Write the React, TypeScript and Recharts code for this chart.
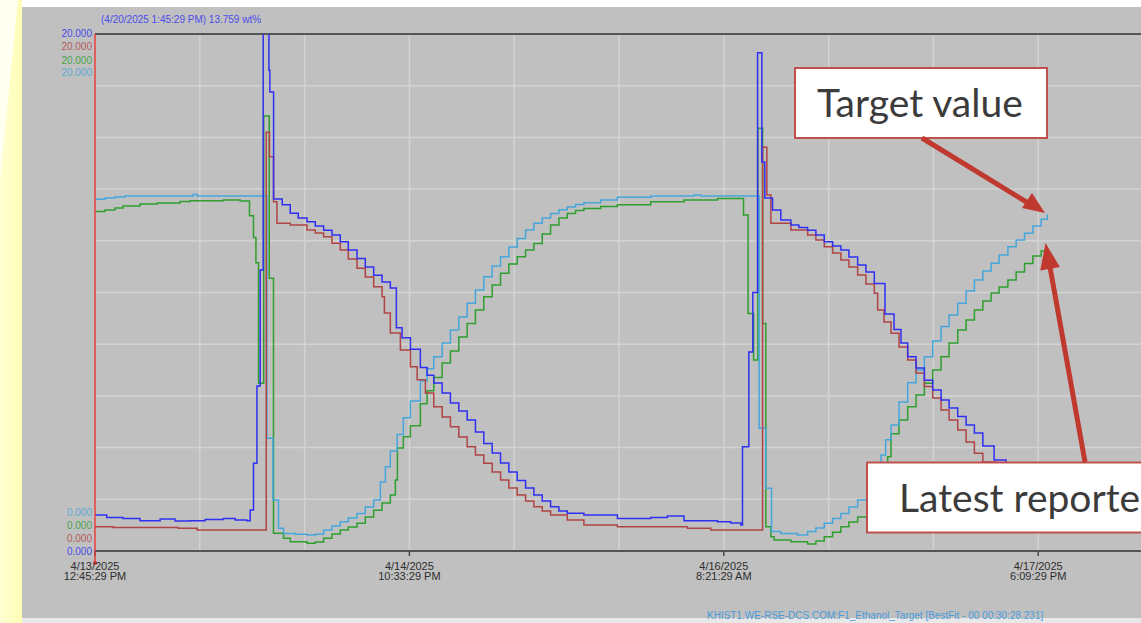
import React from "react";
import {
  LineChart,
  Line,
  XAxis,
  YAxis,
  CartesianGrid,
  ReferenceLine,
} from "recharts";

// time in hours since 4/13/2025 12:45:29 PM, value in wt%
const targetSeries: [number, number][] = [
  [0, 13.61], [1.08, 13.66], [2.15, 13.69], [3.23, 13.73], [10.55, 13.79], [10.98, 13.73],
  [18.48, 4.36], [19.13, 1.97], [19.73, 0.88], [20.27, 0.68], [21.53, 0.65], [22.79, 0.62],
  [23.68, 0.65], [24.58, 0.81], [25.48, 0.97], [26.37, 1.13], [27.23, 1.28], [28.17, 1.45],
  [29.06, 1.7], [29.96, 1.97], [30.68, 2.67], [31.22, 3.26], [31.75, 3.87], [32.48, 4.51],
  [33.15, 5.15], [33.91, 5.8], [34.98, 6.58], [35.7, 7.05], [36.42, 7.51], [37.32, 8.05],
  [38.21, 8.55], [39.11, 9.05], [40.01, 9.58], [40.9, 10.1], [41.8, 10.61], [42.7, 11.03],
  [43.6, 11.38], [44.49, 11.76], [45.39, 12.09], [46.29, 12.42], [47.18, 12.68], [48.08, 12.88],
  [48.98, 13.06], [49.87, 13.2], [50.77, 13.31], [51.66, 13.4], [52.56, 13.47], [54.36, 13.58],
  [56.16, 13.68], [59.74, 13.73], [64.4, 13.77], [65.12, 13.73],
  [71.4, 4.75], [72.12, 2.43], [72.73, 0.75], [73.73, 0.68], [75.53, 0.62], [76.61, 0.75],
  [77.5, 0.89], [78.4, 1.07], [79.3, 1.26], [80.19, 1.45], [81.05, 1.7], [81.99, 1.97],
  [83.07, 2.36], [83.75, 3.06], [84.5, 3.71], [85.0, 4.3], [85.58, 4.87], [86.44, 5.76],
  [87.37, 6.51], [88.27, 7.0], [89.16, 7.51], [90.06, 8.12], [90.96, 8.68], [91.82, 9.13],
  [92.75, 9.58], [93.65, 10.06], [94.54, 10.48], [95.45, 10.83], [96.34, 11.13], [97.2, 11.45],
  [98.14, 11.77], [99.03, 12.03], [99.93, 12.29], [100.83, 12.57], [101.72, 12.83], [102.37, 13.02],
];

const greenSeries: [number, number][] = [
  [0, 13.13], [1.08, 13.19], [2.15, 13.27], [3.01, 13.35], [4.84, 13.42], [6.67, 13.46],
  [9.15, 13.52], [10.23, 13.55], [13.78, 13.58], [15.61, 13.54], [16.61, 12.97], [17.04, 12.13],
  [17.3, 11.15], [17.58, 6.49], [18.14, 16.83], [18.73, 10.55], [19.19, 0.69], [20.27, 0.49],
  [20.99, 0.36], [22.79, 0.3], [23.68, 0.35], [24.58, 0.49], [25.48, 0.66], [26.37, 0.81],
  [27.23, 0.93], [28.17, 1.07], [29.06, 1.32], [29.96, 1.58], [30.86, 1.86], [31.75, 2.17],
  [32.29, 2.75], [32.51, 3.98], [33.15, 4.42], [33.91, 4.85], [34.98, 5.7], [35.7, 6.2],
  [36.42, 6.71], [37.32, 7.27], [38.21, 7.74], [39.11, 8.28], [40.01, 8.8], [40.9, 9.32],
  [41.8, 9.84], [42.7, 10.29], [43.6, 10.74], [44.49, 11.1], [45.39, 11.38], [46.29, 11.64],
  [47.18, 11.9], [48.08, 12.26], [48.98, 12.61], [49.87, 12.88], [50.77, 13.06], [51.66, 13.17],
  [52.56, 13.25], [54.36, 13.33], [56.16, 13.39], [59.74, 13.51], [63.33, 13.58], [66.92, 13.64],
  [69.72, 13.0], [70.21, 9.19], [70.8, 7.39], [71.26, 16.35], [71.77, 8.8], [72.12, 0.94],
  [72.66, 0.55], [73.01, 0.43], [74.81, 0.36], [76.61, 0.27], [77.5, 0.39], [78.4, 0.55],
  [79.3, 0.73], [80.19, 0.94], [81.05, 1.12], [81.99, 1.32], [83.07, 1.78], [84.14, 2.67],
  [85.22, 3.65], [85.58, 4.54], [86.44, 5.07], [87.37, 5.58], [88.27, 6.03], [89.16, 6.49],
  [90.06, 7.0], [90.96, 7.51], [91.82, 8.05], [92.75, 8.55], [93.65, 8.94], [94.54, 9.32],
  [95.45, 9.67], [96.34, 9.98], [97.2, 10.21], [98.14, 10.48], [99.03, 10.79], [99.93, 11.12],
  [100.83, 11.41], [101.72, 11.61], [102.26, 11.8],
];

const blueSeries: [number, number][] = [
  [0, 1.39], [1.26, 1.3], [3.01, 1.26], [4.84, 1.17], [7.0, 1.24], [8.61, 1.16], [10.23, 1.17],
  [11.84, 1.22], [13.81, 1.26], [15.07, 1.2], [16.33, 1.17], [16.68, 1.59], [17.04, 3.39],
  [17.41, 6.38], [17.76, 10.87], [18.08, 23], [18.7, 18.6], [18.8, 17.76], [19.2, 13.62],
  [20.13, 13.39], [20.99, 13.07], [21.85, 12.88], [22.79, 12.74], [23.68, 12.57], [24.58, 12.41],
  [25.48, 12.22], [26.37, 11.96], [27.23, 11.64], [28.17, 11.32], [29.06, 10.99], [29.96, 10.67],
  [30.86, 10.41], [31.75, 10.17], [32.4, 8.64], [33.01, 8.25], [33.91, 7.8], [34.98, 7.1],
  [35.7, 6.8], [36.42, 6.5], [37.32, 6.11], [38.21, 5.73], [39.11, 5.42], [40.01, 5.07],
  [40.9, 4.6], [41.8, 4.16], [42.7, 3.79], [43.6, 3.4], [44.49, 3.06], [45.39, 2.73],
  [46.29, 2.44], [47.18, 2.17], [48.08, 1.93], [48.98, 1.71], [49.87, 1.55], [50.77, 1.46],
  [52.56, 1.39], [56.16, 1.26], [59.74, 1.3], [61.54, 1.35], [63.33, 1.17], [66.92, 1.13],
  [68.35, 1.08], [69.43, 1.01], [69.61, 4.03], [70.29, 7.7], [70.72, 10.0], [71.23, 19.27],
  [71.69, 15.05], [72.01, 13.66], [72.84, 13.19], [73.73, 12.8], [74.81, 12.61], [75.67, 12.51],
  [76.61, 12.41], [77.5, 12.22], [78.4, 11.96], [79.3, 11.8], [80.19, 11.64], [81.05, 11.37],
  [81.99, 11.06], [82.88, 10.79], [83.78, 10.35], [84.93, 9.17], [85.9, 8.57], [86.65, 8.05],
  [87.37, 7.51], [88.27, 7.08], [89.16, 6.61], [90.06, 6.23], [90.96, 5.84], [91.82, 5.53],
  [92.75, 5.2], [93.65, 4.87], [94.54, 4.56], [95.45, 4.06], [96.66, 3.52], [97.95, 3.06],
  [99.57, 2.55], [101.72, 2.09], [102.3, 1.95],
];

const redSeries: [number, number][] = [
  [0, 0.94], [1.94, 0.91], [8.93, 0.88], [10.98, 0.81], [18.41, 16.2], [18.76, 15.25],
  [19.19, 13.51], [19.56, 12.68], [20.99, 12.61], [22.79, 12.42], [23.68, 12.3], [24.58, 12.16],
  [25.48, 11.91], [26.37, 11.64], [27.23, 11.3], [28.17, 10.94], [29.06, 10.6], [29.96, 10.22],
  [30.86, 9.84], [31.11, 9.21], [31.75, 8.43], [32.83, 7.78], [33.91, 7.13], [34.63, 6.62],
  [35.52, 6.11], [36.42, 5.58], [37.32, 5.18], [38.21, 4.81], [39.11, 4.41], [40.01, 4.03],
  [40.9, 3.71], [41.8, 3.39], [42.7, 3.06], [43.6, 2.75], [44.49, 2.44], [45.39, 2.17],
  [46.29, 1.93], [47.18, 1.71], [48.08, 1.55], [48.98, 1.39], [50.77, 1.2], [52.56, 1.01],
  [56.16, 0.94], [63.69, 0.88], [66.2, 0.81], [71.77, 15.62], [72.23, 13.77], [72.66, 12.68],
  [74.81, 12.42], [76.61, 12.22], [77.5, 12.03], [78.4, 11.77], [79.3, 11.53], [80.19, 11.26],
  [81.05, 10.99], [81.99, 10.68], [82.88, 10.33], [83.78, 9.97], [84.14, 9.32], [84.82, 8.86],
  [85.58, 8.42], [86.44, 7.89], [87.37, 7.39], [88.27, 6.89], [89.16, 6.36], [90.06, 5.92],
  [90.96, 5.45], [91.82, 5.07], [92.75, 4.68], [93.65, 4.22], [94.54, 3.78], [95.45, 3.44],
  [96.88, 2.94], [98.49, 2.48], [100.1, 2.13], [101.72, 1.82], [102.3, 1.7],
];

// grid every 11h16m, labels every third grid line
const gridTimes = [0, 11.267, 22.533, 33.8, 45.067, 56.333, 67.6, 78.867, 90.133, 101.4, 112.667];
const labelTimes = [0, 33.8, 67.6, 101.4];
const labelDates = ["4/13/2025", "4/14/2025", "4/16/2025", "4/17/2025"];
const labelClock = ["12:45:29 PM", "10:33:29 PM", "8:21:29 AM", "6:09:29 PM"];
const valueTicks = [0, 2, 4, 6, 8, 10, 12, 14, 16, 18, 20];

const BLUE = "#2f2ff2";
const RED = "#b04444";
const GREEN = "#2e9e2e";
const CYAN = "#45a6dc";

const FONT = "'Liberation Sans', Arial, sans-serif";
const CALLOUT_FONT = "Lato, 'Open Sans', sans-serif";

const toPoints = (arr: [number, number][]) => arr.map(([t, v]) => ({ t, v }));

const XTick = (props: any) => {
  const { x, y, payload } = props;
  const i = labelTimes.findIndex((t) => Math.abs(t - payload.value) < 0.01);
  if (i < 0) return <g />;
  return (
    <g>
      <line x1={x} y1={y - 5} x2={x} y2={y} stroke="#4a4a4a" strokeWidth={1.5} />
      {i === 0 && (
        <g>
          <line x1={x} y1={y - 5} x2={x} y2={y + 7} stroke="#e63838" strokeWidth={1.5} />
          <circle cx={x} cy={y + 7} r={2} fill="#e63838" />
        </g>
      )}
      <text x={x} y={y + 13.5} textAnchor="middle" fontSize={11} fill="#2e2e2e" fontFamily={FONT}>
        {labelDates[i]}
      </text>
      <text x={x} y={y + 24} textAnchor="middle" fontSize={11} fill="#2e2e2e" fontFamily={FONT}>
        {labelClock[i]}
      </text>
    </g>
  );
};

const YTick = (props: any) => {
  const { x, y, payload } = props;
  const v = payload.value;
  if (v !== 0 && v !== 20) return <g />;
  const rows =
    v === 20
      ? [
          { c: BLUE, dy: 2.9 },
          { c: RED, dy: 16.3 },
          { c: GREEN, dy: 29.6 },
          { c: CYAN, dy: 42.3 },
        ]
      : [
          { c: CYAN, dy: -34.7 },
          { c: GREEN, dy: -22.1 },
          { c: RED, dy: -8.7 },
          { c: BLUE, dy: 3.9 },
        ];
  const label = v === 20 ? "20.000" : "0.000";
  return (
    <g>
      {rows.map((r, k) => (
        <text key={k} x={x} y={y + r.dy} textAnchor="end" fontSize={10} fill={r.c} fillOpacity={0.85} fontFamily={FONT}>
          {label}
        </text>
      ))}
    </g>
  );
};

export default function App() {
  return (
    <div
      style={{
        position: "absolute",
        left: 0,
        top: 0,
        width: 1141,
        height: 623,
        overflow: "hidden",
        background: "#ffffff",
      }}
    >
      {/* slide background */}
      <svg width={1141} height={623} style={{ position: "absolute", left: 0, top: 0 }}>
        <defs>
          <linearGradient id="yel" x1="0" y1="0" x2="1" y2="0">
            <stop offset="0%" stopColor="#ffffd2" />
            <stop offset="100%" stopColor="#ffffb6" />
          </linearGradient>
        </defs>
        <rect x={0} y={0} width={22} height={623} fill="url(#yel)" />
        <polygon points="0,0 18,0 0,180" fill="#fffff2" />
        <rect x={22} y={7} width={1119} height={611} fill="#c0c0c0" />
        <rect x={22} y={618} width={1119} height={5} fill="#e8e8e8" />
        <text x={101} y={23} fontSize={10} fill="#4d4de8" fontFamily={FONT}>
          (4/20/2025 1:45:29 PM) 13.759 wt%
        </text>
        <text x={707} y={618.5} fontSize={10} fill="#4a9ad8" fontFamily={FONT}>
          KHIST1.WE-RSE-DCS.COM:F1_Ethanol_Target [BestFit - 00 00:30:28.231]
        </text>
      </svg>

      <div style={{ position: "absolute", left: 0, top: 0 }}>
        <LineChart width={1200} height={623} margin={{ top: 34, right: 57, bottom: 42, left: 35 }}>
          <CartesianGrid stroke="#d3d3d3" strokeWidth={1.5} />
          <XAxis
            type="number"
            dataKey="t"
            domain={[0, 112.667]}
            ticks={gridTimes}
            interval={0}
            height={30}
            tickSize={5}
            tickMargin={0}
            tickLine={false}
            axisLine={{ stroke: "#555", strokeWidth: 2 }}
            tick={<XTick />}
            allowDataOverflow
          />
          <YAxis
            type="number"
            domain={[0, 20]}
            ticks={valueTicks}
            interval={0}
            width={60}
            tickSize={0}
            tickMargin={3}
            tickLine={false}
            axisLine={false}
            tick={<YTick />}
            allowDataOverflow
          />
          <ReferenceLine y={20} stroke="#555" strokeWidth={2} />
          <Line data={toPoints(greenSeries)} dataKey="v" type="stepAfter" stroke={GREEN} strokeWidth={1.5} dot={false} isAnimationActive={false} />
          <Line data={toPoints(targetSeries)} dataKey="v" type="stepAfter" stroke={CYAN} strokeWidth={1.5} dot={false} isAnimationActive={false} />
          <Line data={toPoints(redSeries)} dataKey="v" type="stepAfter" stroke={RED} strokeWidth={1.5} dot={false} isAnimationActive={false} />
          <Line data={toPoints(blueSeries)} dataKey="v" type="stepAfter" stroke={BLUE} strokeWidth={1.5} dot={false} isAnimationActive={false} />
          <ReferenceLine x={0} stroke="#e63838" strokeWidth={1.5} />
        </LineChart>
      </div>

      {/* callouts (the second box runs past the right edge, as in the slide) */}
      <svg width={1141} height={623} style={{ position: "absolute", left: 0, top: 0, pointerEvents: "none" }}>
        <rect x={795} y={68} width={252} height={70} fill="#ffffff" stroke="#c0504d" strokeWidth={2} />
        <text x={817} y={117} fontSize={39} fill="#3b3b3b" fontFamily={CALLOUT_FONT}>
          Target value
        </text>
        <rect x={867} y={462.5} width={320} height={70} fill="#ffffff" stroke="#c0504d" strokeWidth={2} />
        <text x={899} y={512} fontSize={39} fill="#3b3b3b" fontFamily={CALLOUT_FONT}>
          Latest reported value
        </text>
        <line x1={922} y1={138} x2={1028} y2={203} stroke="#c0392f" strokeWidth={5} />
        <polygon points="1045,213 1022,208 1032,193" fill="#c0392f" />
        <line x1={1085} y1={462} x2={1050} y2={267} stroke="#c0392f" strokeWidth={5} />
        <polygon points="1045.5,243 1059.9,267 1040.3,270.4" fill="#c0392f" />
      </svg>
    </div>
  );
}
